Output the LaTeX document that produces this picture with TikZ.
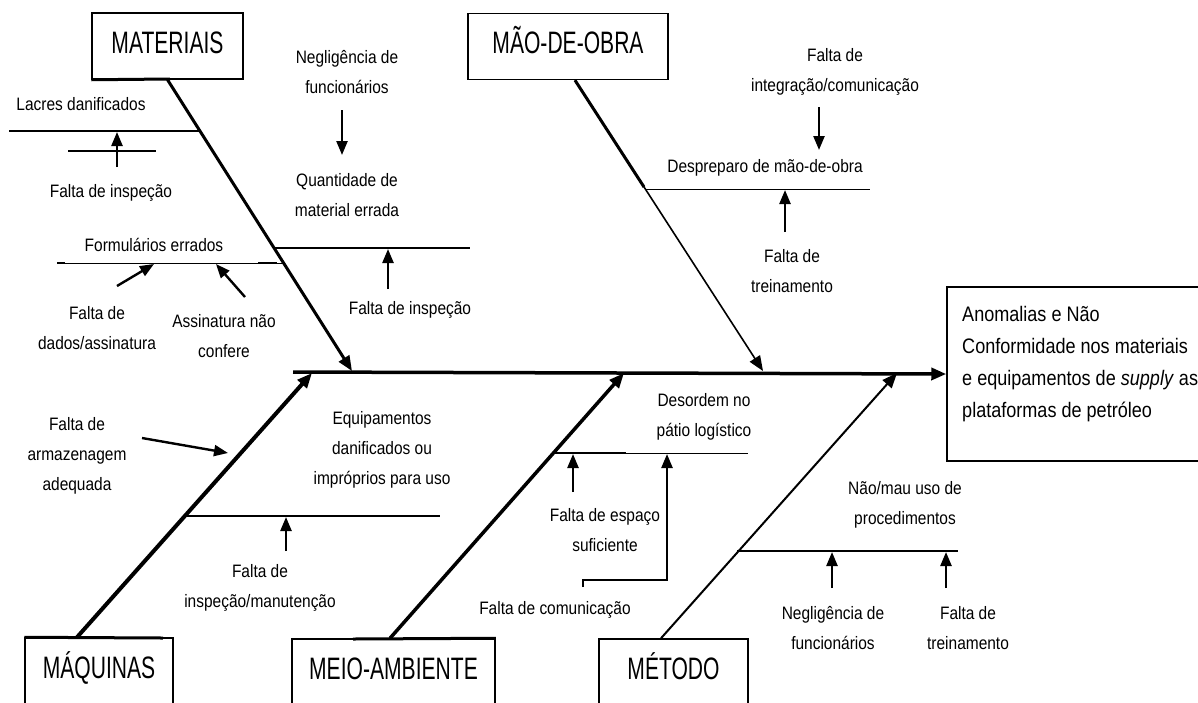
\documentclass[tikz,border=0pt]{standalone}
\usepackage{fontspec}
\setmainfont{Liberation Sans}[FakeStretch=0.86]
\newfontfamily\capsfont{Liberation Sans}[FakeStretch=0.68]
\usetikzlibrary{arrows,arrows.meta}

\begin{document}
\begin{tikzpicture}[x=1pt,y=-1pt]
\tikzstyle{every node}+=[font=\fontsize{18}{30}\selectfont, align=center, inner sep=0pt]
\tikzstyle{cat}=[draw, line width=1.5pt, minimum height=66pt, text height=22pt, text depth=8pt, font=\capsfont\fontsize{31}{31}\selectfont]
\tikzstyle{bone}=[line width=3pt, -{Triangle[length=15pt,width=12pt]}]
\tikzstyle{rib}=[line width=2.2pt]
\tikzstyle{thinrib}=[line width=0.9pt]
\tikzstyle{cause}=[line width=2.4pt, -{Triangle[length=14pt,width=11pt]}]

\fill[white] (0,0) rectangle (1198,702);
\clip (0,0) rectangle (1198,702);

% categories and effect
\node[cat, minimum width=151pt] (mat) at (167.5,46) {MATERIAIS};
\node[cat, minimum width=200pt] (mao) at (568,46.5) {MÃO-DE-OBRA};
\node[cat, minimum width=148pt] (maq) at (99,671) {MÁQUINAS};
\node[cat, minimum width=203pt] (meio) at (393.5,672) {MEIO-AMBIENTE};
\node[cat, minimum width=149pt] (met) at (673.5,672) {MÉTODO};
\node[draw, line width=1.5pt, minimum width=263pt, minimum height=174pt] (effect) at (1078.5,374) {};
\node[anchor=west, align=left, font=\fontsize{21}{32}\selectfont] (effecttext) at (962,364)
  {Anomalias e Não\\Conformidade nos materiais\\e equipamentos de \textit{supply} as\\plataformas de petróleo};

\draw[line width=3pt] (mat.south west) -- (170,79);
\draw[line width=3pt] (maq.north west) -- (163,638);
\draw[line width=3pt] (353,639) -- (meio.north east);

% spine and bones
\coordinate (tail) at (293,372);
\coordinate (smat) at (352,371);
\coordinate (smao) at (763,371);
\coordinate (smaq) at (312,373);
\coordinate (smeio) at (624,373);
\coordinate (smet) at (897,373);
\coordinate (maoknee) at (644,187);

\draw[bone, line width=3.5pt] (tail) -- (effect.west);
\draw[bone] (mat.south) -- (smat);
\draw[bone, line width=1.6pt] ([xshift=7pt]mao.south) -- (smao);
\draw[line width=3pt] ([xshift=7pt]mao.south) -- (maoknee);
\draw[bone, line width=4pt] ([xshift=-22pt]maq.north) -- (smaq);
\draw[bone, line width=3.5pt] ([xshift=-3.5pt]meio.north) -- (smeio);
\draw[bone, line width=2pt] ([xshift=-12.5pt]met.north) -- (smet);

% texts
\node (lacres) at (81,104) {Lacres danificados};
\node (insp1) at (111,193) {Falta de inspeção};
\node (form) at (154,245) {Formulários errados};
\node (dados) at (97,328) {Falta de\\dados/assinatura};
\node (assin) at (224,336) {Assinatura não\\confere};
\node (negl1) at (347,72) {Negligência de\\funcionários};
\node (quant) at (347,195) {Quantidade de\\material errada};
\node (insp2) at (410,310) {Falta de inspeção};
\node (integ) at (835,72) {Falta de\\integração/comunicação};
\node (despr) at (765,168) {Despreparo de mão-de-obra};
\node (trein1) at (792,271) {Falta de\\treinamento};
\node (armaz) at (77,456) {Falta de\\armazenagem\\adequada};
\node (equip) at (382,450) {Equipamentos\\danificados ou\\impróprios para uso};
\node (manut) at (260,588) {Falta de\\inspeção/manutenção};
\node (desord) at (704,417) {Desordem no\\pátio logístico};
\node (espaco) at (605,530) {Falta de espaço\\suficiente};
\node (comun) at (555,610) {Falta de comunicação};
\node (proced) at (905,505) {Não/mau uso de\\procedimentos};
\node (negl2) at (833,628) {Negligência de\\funcionários};
\node (trein2) at (968,628) {Falta de\\treinamento};

% ribs
\draw[rib] (9,131) -- (199,131);
\draw[rib] (68,151) -- (156,151);
\draw[thinrib] (57,263) -- (283,263);
\draw[rib] (57,263) -- (65,263) (258,263) -- (277,263);
\draw[rib] (275,248) -- (470,248);
\draw[thinrib] (645,189) -- (870,189);
\draw[rib] (185,516) -- (440,516);
\draw[thinrib] (553,453) -- (748,453);
\draw[rib] (553,453) -- (626,453);
\draw[rib] (737,551) -- (958,551);

% causes
\coordinate (a1) at (117,167);  \coordinate (h1) at (117,132);
\coordinate (a2) at (117,286);  \coordinate (h2) at (154,264);
\coordinate (a3) at (245,297);  \coordinate (h3) at (216,264);
\coordinate (a4) at (342,110);  \coordinate (h4) at (342,155);
\coordinate (a5) at (388,289);  \coordinate (h5) at (388,249);
\coordinate (a6) at (819,107);  \coordinate (h6) at (819,150);
\coordinate (a7) at (785,232);  \coordinate (h7) at (785,190);
\coordinate (a8) at (142,438);  \coordinate (h8) at (228,453);
\coordinate (a9) at (286,551);  \coordinate (h9) at (286,517);
\coordinate (a10) at (573,492); \coordinate (h10) at (573,454);
\coordinate (a11) at (583,587); \coordinate (h11) at (667,454);
\coordinate (a12) at (832,588); \coordinate (h12) at (832,552);
\coordinate (a13) at (946,588); \coordinate (h13) at (946,552);

\path[cause]
  (a1) edge (h1)
  (a2) edge (h2)
  (a3) edge (h3)
  (a4) edge (h4)
  (a5) edge (h5)
  (a6) edge (h6)
  (a7) edge (h7)
  (a8) edge (h8)
  (a9) edge (h9)
  (a10) edge (h10)
  (a12) edge (h12)
  (a13) edge (h13)
;
\draw[cause] (a11) -- (583,580) -| (h11);
\end{tikzpicture}
\end{document}
